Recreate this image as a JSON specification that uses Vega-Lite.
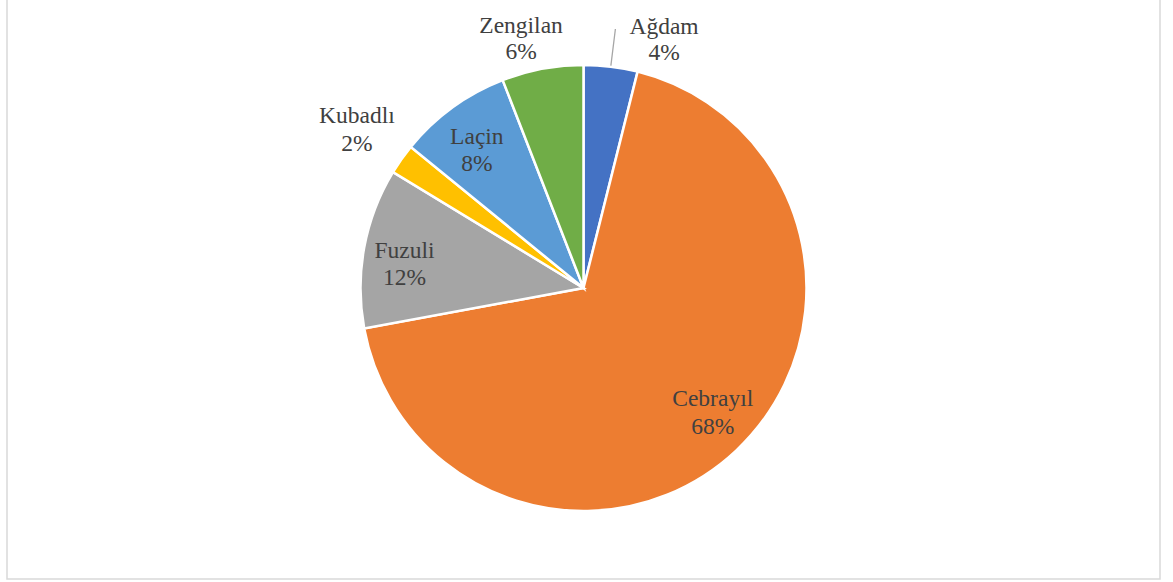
{
  "$schema": "https://vega.github.io/schema/vega-lite/v6.json",
  "width": 1173,
  "height": 582,
  "autosize": {"type": "fit", "contains": "padding"},
  "padding": {"left": 7, "right": 13, "top": -3, "bottom": 3},
  "background": "white",
  "view": {"stroke": "#d9d9d9", "strokeWidth": 1.5},
  "config": {"view": {"stroke": "#d9d9d9", "strokeWidth": 1.5}, "text": {"font": "'Liberation Serif', 'Times New Roman', 'DejaVu Serif', serif"}},
  "data": {
    "values": [
      {"name": "Ağdam", "value": 3.9},
      {"name": "Cebrayıl", "value": 68.2},
      {"name": "Fuzuli", "value": 11.6},
      {"name": "Kubadlı", "value": 2.2},
      {"name": "Laçin", "value": 8.2},
      {"name": "Zengilan", "value": 5.9}
    ]
  },
  "transform": [
    {"stack": "value", "groupby": [], "sort": [{"field": "name", "order": "ascending"}], "as": ["start", "end"]},
    {"calculate": "(datum.start + datum.end) / 2", "as": "mid"},
    {"calculate": "datum.name + '\\n' + format(datum.value / 100, '.0%')", "as": "label"}
  ],
  "layer": [
    {
      "mark": {"type": "arc", "radius": 223, "stroke": "white", "strokeWidth": 2.5},
      "encoding": {
        "theta": {"field": "start", "type": "quantitative", "stack": false, "scale": {"domain": [0, 100], "range": [0, 6.283185307179586]}},
        "theta2": {"field": "end"},
        "color": {
          "field": "name",
          "type": "nominal",
          "legend": null,
          "scale": {
            "domain": ["Ağdam", "Cebrayıl", "Fuzuli", "Kubadlı", "Laçin", "Zengilan"],
            "range": ["#4472C4", "#ED7D31", "#A5A5A5", "#FFC000", "#5B9BD5", "#70AD47"]
          }
        }
      }
    },
    {
      "transform": [{"filter": "datum.name === 'Ağdam'"}],
      "mark": {"type": "arc", "radius": 261, "radius2": 224, "fill": null, "fillOpacity": 0, "stroke": "#a6a6a6", "strokeWidth": 1.3},
      "encoding": {
        "theta": {"field": "mid", "type": "quantitative", "stack": false},
        "theta2": {"field": "mid"}
      }
    },
    {
      "transform": [{"filter": "datum.name === 'Ağdam'"}],
      "mark": {"type": "text", "radius": 250, "dx": 50, "dy": -13, "fontSize": 23.5, "lineHeight": 26, "lineBreak": "\n", "fill": "#404040", "align": "center", "baseline": "middle"},
      "encoding": {"theta": {"field": "mid", "type": "quantitative", "stack": false}, "text": {"field": "label"}}
    },
    {
      "transform": [{"filter": "datum.name === 'Zengilan'"}],
      "mark": {"type": "text", "radius": 252, "dx": -16, "dy": -14, "fontSize": 23.5, "lineHeight": 26, "lineBreak": "\n", "fill": "#404040", "align": "center", "baseline": "middle"},
      "encoding": {"theta": {"field": "mid", "type": "quantitative", "stack": false}, "text": {"field": "label"}}
    },
    {
      "transform": [{"filter": "datum.name === 'Kubadlı'"}],
      "mark": {"type": "text", "radius": 280, "dx": 2, "dy": -10, "fontSize": 23.5, "lineHeight": 28, "lineBreak": "\n", "fill": "#404040", "align": "center", "baseline": "middle"},
      "encoding": {"theta": {"field": "mid", "type": "quantitative", "stack": false}, "text": {"field": "label"}}
    },
    {
      "transform": [{"filter": "datum.name === 'Laçin'"}],
      "mark": {"type": "text", "radius": 178, "dx": -2, "dy": -7, "fontSize": 23.5, "lineHeight": 27, "lineBreak": "\n", "fill": "#404040", "align": "center", "baseline": "middle"},
      "encoding": {"theta": {"field": "mid", "type": "quantitative", "stack": false}, "text": {"field": "label"}}
    },
    {
      "transform": [{"filter": "datum.name === 'Fuzuli'"}],
      "mark": {"type": "text", "radius": 180, "dx": -2, "dy": -4, "fontSize": 23.5, "lineHeight": 27, "lineBreak": "\n", "fill": "#404040", "align": "center", "baseline": "middle"},
      "encoding": {"theta": {"field": "mid", "type": "quantitative", "stack": false}, "text": {"field": "label"}}
    },
    {
      "transform": [{"filter": "datum.name === 'Cebrayıl'"}],
      "mark": {"type": "text", "radius": 180, "dx": 6, "dy": -20, "fontSize": 23.5, "lineHeight": 28, "lineBreak": "\n", "fill": "#404040", "align": "center", "baseline": "middle"},
      "encoding": {"theta": {"field": "mid", "type": "quantitative", "stack": false}, "text": {"field": "label"}}
    }
  ]
}
